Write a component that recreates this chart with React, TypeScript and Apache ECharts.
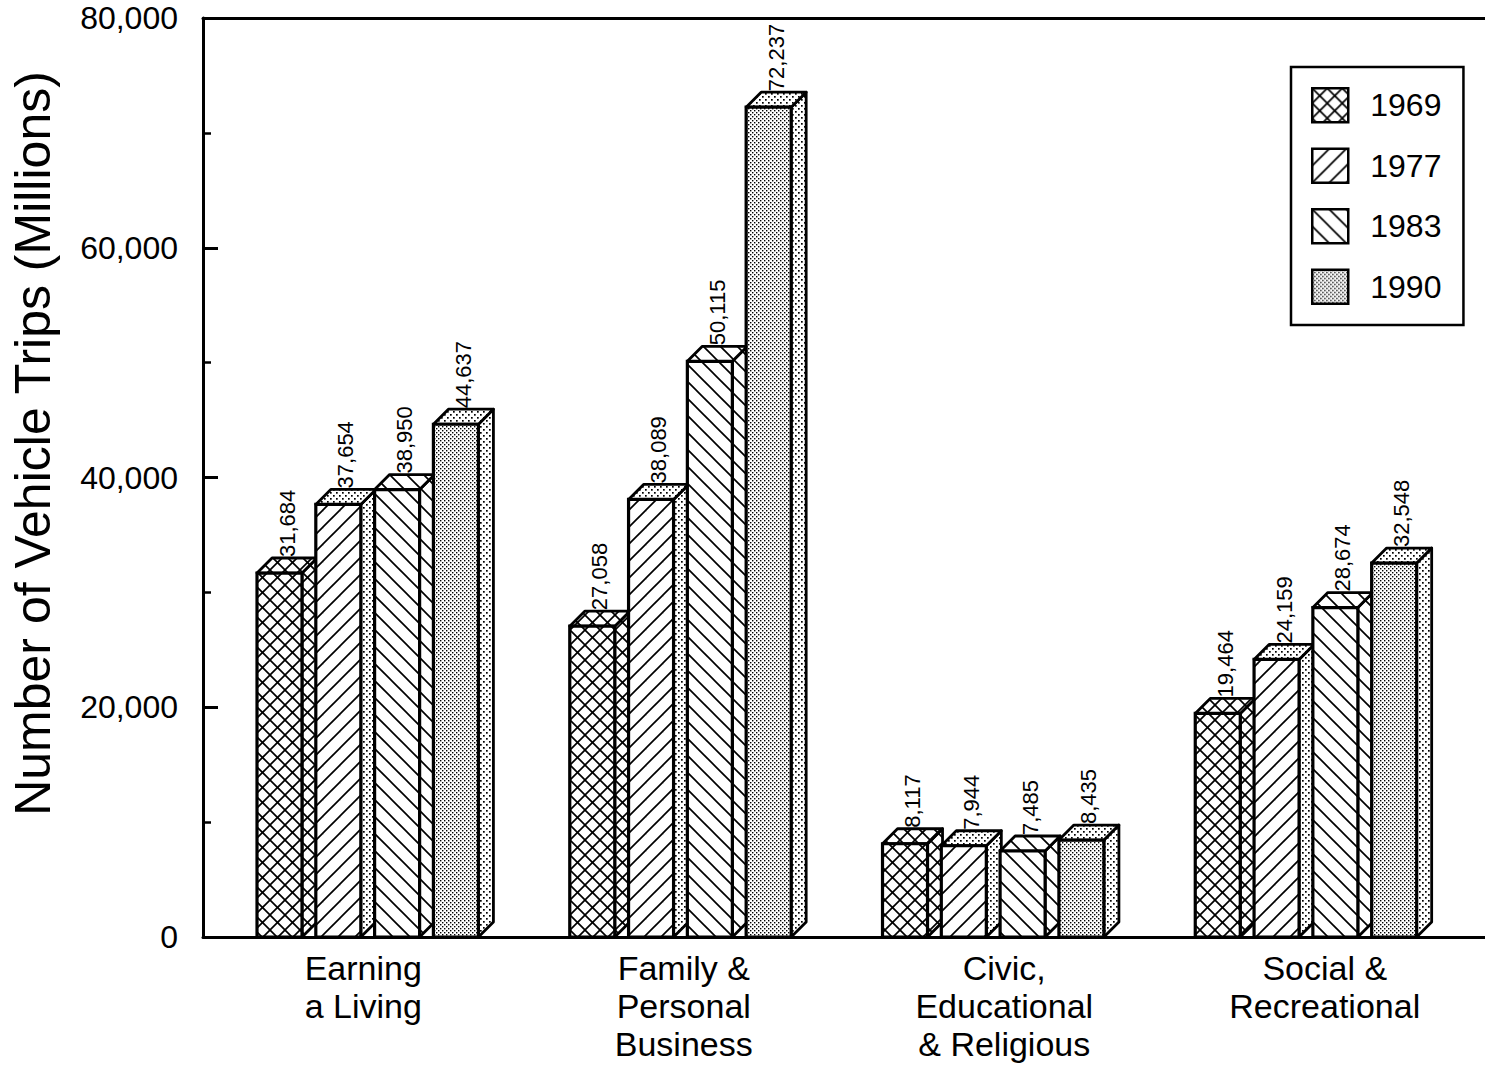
import React, { useEffect, useRef } from "react";
import * as echarts from "echarts";

const categories = [
  "Earning\na Living",
  "Family &\nPersonal\nBusiness",
  "Civic,\nEducational\n& Religious",
  "Social &\nRecreational",
];
const years = ["1969", "1977", "1983", "1990"];
const values1969 = [31684, 27058, 8117, 19464];
const values1977 = [37654, 38089, 7944, 24159];
const values1983 = [38950, 50115, 7485, 28674];
const values1990 = [44637, 72237, 8435, 32548];
const seriesValues = [values1969, values1977, values1983, values1990];
const yMin = 0;
const yMax = 80000;
const yInterval = 20000;

const FONT = "'Liberation Sans', Arial, Helvetica, sans-serif";

// bar geometry as fractions of the category band
const OFFSET_F = 0.1727;
const STEP_F = 0.188;
const FRONT_F = 0.1439;
const DEPTH_F = 0.048;

function makePattern(size: number, draw: (ctx: CanvasRenderingContext2D, s: number) => void) {
  const c = document.createElement("canvas");
  c.width = size;
  c.height = size;
  const ctx = c.getContext("2d")!;
  ctx.fillStyle = "#fff";
  ctx.fillRect(0, 0, size, size);
  ctx.strokeStyle = "#000";
  ctx.fillStyle = "#000";
  draw(ctx, size);
  return { image: c, repeat: "repeat", imageWidth: size, imageHeight: size } as any;
}

function slashLines(ctx: CanvasRenderingContext2D, s: number, dir: number) {
  ctx.lineWidth = 1.7;
  for (let k = -1; k <= 1; k++) {
    ctx.beginPath();
    if (dir > 0) {
      ctx.moveTo(k * s - 1, s + 1);
      ctx.lineTo(k * s + s + 1, -1);
    } else {
      ctx.moveTo(k * s - 1, -1);
      ctx.lineTo(k * s + s + 1, s + 1);
    }
    ctx.stroke();
  }
}

export default function App() {
  const ref = useRef<HTMLDivElement>(null);

  useEffect(() => {
    if (!ref.current) return;
    const chart = echarts.init(ref.current, undefined, { renderer: "svg" });

    const cross = makePattern(15, (ctx, s) => {
      slashLines(ctx, s, 1);
      slashLines(ctx, s, -1);
    });
    const slash = makePattern(17, (ctx, s) => slashLines(ctx, s, 1));
    const back = makePattern(17, (ctx, s) => slashLines(ctx, s, -1));
    const dense = makePattern(4, (ctx) => {
      ctx.fillRect(0, 0, 1.4, 1.4);
      ctx.fillRect(2, 2, 1.4, 1.4);
    });
    const sparse = makePattern(6, (ctx) => {
      ctx.fillRect(0, 0, 1.7, 1.7);
      ctx.fillRect(3, 3, 1.7, 1.7);
    });
    const frontPatterns = [cross, slash, back, dense];
    const sidePatterns = [cross, sparse, back, sparse];

    const series = seriesValues.map((vals, sIdx) => ({
      name: years[sIdx],
      type: "custom",
      xAxisIndex: 2,
      yAxisIndex: 1,
      encode: { x: 0, y: 1 },
      itemStyle: { color: frontPatterns[sIdx], borderColor: "#000", borderWidth: 2.5 },
      data: vals.map((v, i) => [i, v]),
      renderItem: (params: any, api: any) => {
        const ci = api.value(0);
        const v = api.value(1);
        const base = api.coord([ci, 0]);
        const topPt = api.coord([ci, v]);
        const band = api.size([1, 0])[0];
        const x0 = base[0] - band / 2 + band * OFFSET_F + sIdx * band * STEP_F;
        const w = band * FRONT_F;
        const d = band * DEPTH_F;
        const by = base[1];
        const ty = topPt[1];
        const lw = 2.8;
        return {
          type: "group",
          children: [
            {
              type: "polygon",
              shape: {
                points: [
                  [x0 + w, ty],
                  [x0 + w + d, ty - d],
                  [x0 + w + d, by - d],
                  [x0 + w, by],
                ],
              },
              style: { fill: sidePatterns[sIdx], stroke: "#000", lineWidth: lw, lineJoin: "round" },
            },
            {
              type: "polygon",
              shape: {
                points: [
                  [x0, ty],
                  [x0 + d, ty - d],
                  [x0 + w + d, ty - d],
                  [x0 + w, ty],
                ],
              },
              style: { fill: sidePatterns[sIdx], stroke: "#000", lineWidth: lw, lineJoin: "round" },
            },
            {
              type: "rect",
              shape: { x: x0, y: ty, width: w, height: by - ty },
              style: { fill: frontPatterns[sIdx], stroke: "#000", lineWidth: lw + 0.4 },
            },
            {
              type: "text",
              x: x0 + w / 2 + d / 2,
              y: ty - d - 1,
              rotation: Math.PI / 2,
              style: {
                text: Number(v).toLocaleString("en-US"),
                fill: "#000",
                fontSize: 22,
                fontFamily: FONT,
                align: "left",
                verticalAlign: "middle",
              },
            },
          ],
        };
      },
    }));

    const option: any = {
      animation: false,
      backgroundColor: "#fff",
      textStyle: { fontFamily: FONT, color: "#000" },
      grid: [
        { left: 203, right: 0, top: 18, bottom: 133 },
        { left: 203, right: 31, top: 18, bottom: 133 },
      ],
      legend: {
        orient: "vertical",
        left: 1291,
        top: 67,
        padding: [20, 22, 20, 20],
        borderColor: "#000",
        borderWidth: 2.5,
        backgroundColor: "#fff",
        itemWidth: 36,
        itemHeight: 34,
        itemGap: 24,
        icon: "rect",
        selectedMode: false,
        itemStyle: { borderColor: "#000", borderWidth: 2.5 },
        textStyle: { fontSize: 32, color: "#000", fontFamily: FONT, padding: [0, 0, 0, 17], lineHeight: 34 },
        data: years,
      },
      xAxis: [
        {
          type: "category",
          gridIndex: 0,
          data: categories,
          position: "bottom",
          axisLine: { onZero: false, lineStyle: { color: "#000", width: 3 } },
          axisTick: { show: false },
          axisLabel: {
            interval: 0,
            color: "#000",
            fontSize: 34,
            lineHeight: 38,
            fontFamily: FONT,
            margin: 12,
          },
          splitLine: { show: false },
        },
        {
          type: "category",
          gridIndex: 0,
          data: categories,
          position: "top",
          axisLine: { onZero: false, lineStyle: { color: "#000", width: 3 } },
          axisTick: { show: false },
          axisLabel: { show: false },
          splitLine: { show: false },
        },
        {
          type: "category",
          gridIndex: 1,
          data: categories,
          show: false,
        },
      ],
      yAxis: [
        {
          type: "value",
          gridIndex: 0,
          min: yMin,
          max: yMax,
          interval: yInterval,
          name: "Number of Vehicle Trips (Millions)",
          nameLocation: "middle",
          nameRotate: 90,
          nameGap: 145,
          nameTextStyle: { fontSize: 50, color: "#000", fontFamily: FONT, padding: [0, 0, 0, 68] },
          axisLine: { show: true, onZero: false, lineStyle: { color: "#000", width: 3 } },
          axisTick: { show: true, inside: true, length: 15, lineStyle: { color: "#000", width: 3 } },
          minorTick: { show: true, splitNumber: 2, length: 8, lineStyle: { color: "#000", width: 2.5 } },
          axisLabel: {
            color: "#000",
            fontSize: 32,
            fontFamily: FONT,
            margin: 25,
            formatter: (v: number) => v.toLocaleString("en-US"),
          },
          splitLine: { show: false },
        },
        {
          type: "value",
          gridIndex: 1,
          min: yMin,
          max: yMax,
          interval: yInterval,
          show: false,
          splitLine: { show: false },
        },
      ],
      series,
    };

    chart.setOption(option);
    return () => chart.dispose();
  }, []);

  return (
    <div
      ref={ref}
      style={{ position: "fixed", left: 0, top: 0, width: 1485, height: 1070, background: "#fff" }}
    />
  );
}
